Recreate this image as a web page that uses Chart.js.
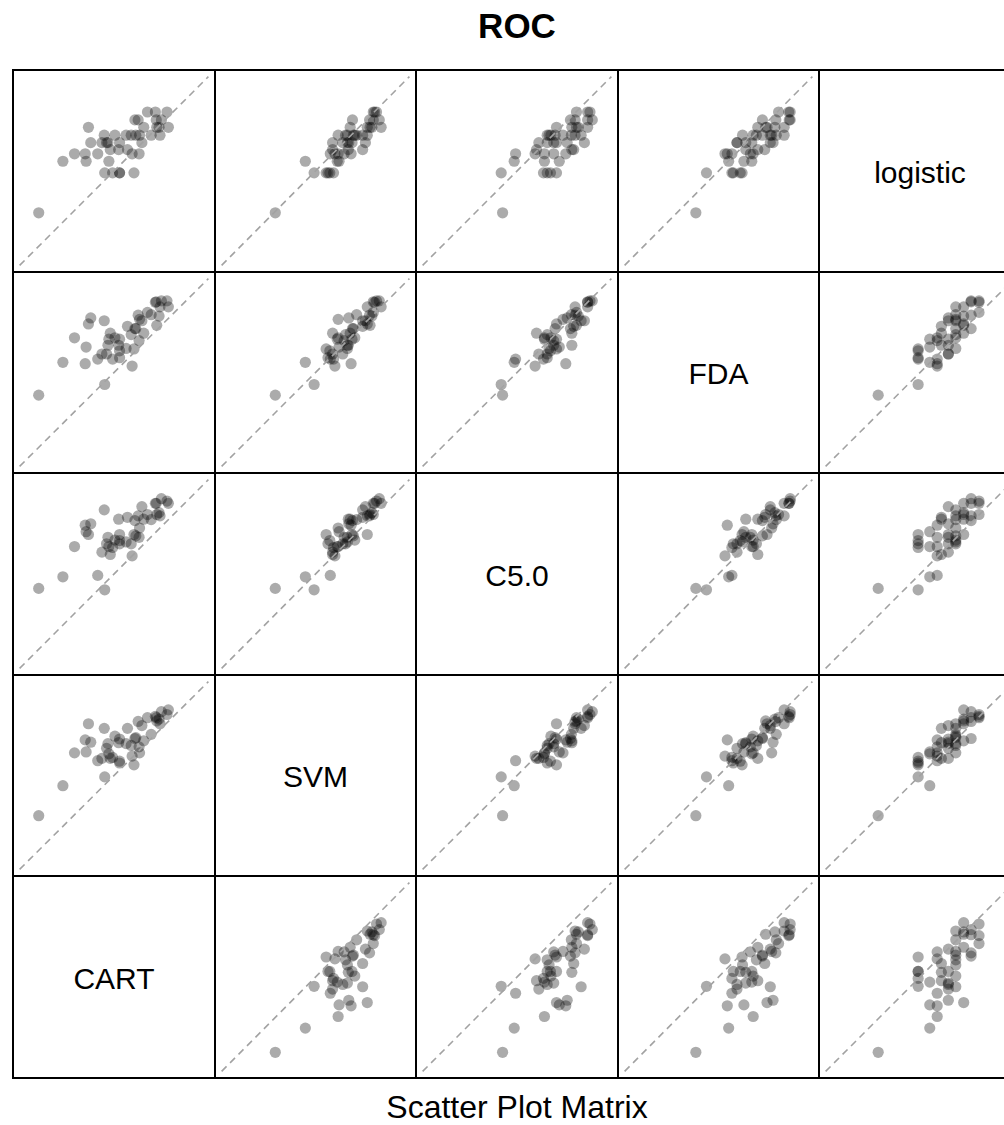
<!DOCTYPE html>
<html>
<head>
<meta charset="utf-8">
<title>ROC</title>
<script src="https://cdn.jsdelivr.net/npm/chart.js@4/dist/chart.umd.min.js"></script>
<style>
  html, body { margin: 0; padding: 0; background: #fff; overflow: hidden; }
  body { width: 1004px; height: 1125px; position: relative; font-family: "Liberation Sans", Arial, Helvetica, sans-serif; }
  .title { position: absolute; left: 0; width: 1034px; top: 6px; text-align: center; font-weight: bold; font-size: 35px; color: #000; }
  .xlab { position: absolute; left: 0; width: 1034px; top: 1089px; text-align: center; font-size: 32px; color: #000; }
  .panel { position: absolute; background: #fff; }
  .panel canvas { display: block; }
  .varname { position: absolute; display: flex; align-items: center; justify-content: center; font-size: 30px; color: #000; padding-top: 3px; box-sizing: border-box; }
  .rule { position: absolute; background: #000; }
</style>
</head>
<body>
<div class="title">ROC</div>
<div class="xlab">Scatter Plot Matrix</div>
<div id="matrix"></div>
<script>
// resampled ROC per model, one entry per resample
const models = ['CART', 'SVM', 'C5.0', 'FDA', 'logistic'];
const rocCART = [0.638, 0.780, 0.797, 0.812, 0.812, 0.843, 0.690, 0.740, 0.789, 0.715, 0.738, 0.765, 0.839, 0.854, 0.792,
  0.810, 0.829, 0.750, 0.774, 0.784, 0.787, 0.812, 0.860, 0.779, 0.802, 0.826, 0.837, 0.847, 0.855, 0.880,
  0.899, 0.745, 0.864, 0.892, 0.897, 0.917, 0.845, 0.852, 0.891, 0.902, 0.872, 0.889, 0.914];
const rocSVM = [0.713, 0.797, 0.839, 0.827, 0.831, 0.823, 0.778, 0.851, 0.847, 0.849, 0.877, 0.832, 0.842, 0.862, 0.837,
  0.871, 0.902, 0.872, 0.837, 0.859, 0.869, 0.879, 0.908, 0.902, 0.885, 0.869, 0.865, 0.882, 0.849, 0.889,
  0.912, 0.912, 0.875, 0.918, 0.922, 0.942, 0.880, 0.917, 0.925, 0.938, 0.925, 0.928, 0.932];
const rocC50 = [0.769, 0.766, 0.857, 0.865, 0.872, 0.885, 0.794, 0.891, 0.859, 0.859, 0.905, 0.797, 0.839, 0.879, 0.842,
  0.918, 0.922, 0.908, 0.847, 0.865, 0.879, 0.885, 0.945, 0.938, 0.873, 0.869, 0.865, 0.882, 0.899, 0.917,
  0.925, 0.885, 0.918, 0.928, 0.932, 0.952, 0.915, 0.925, 0.952, 0.962, 0.928, 0.952, 0.957];
const rocFDA = [0.751, 0.774, 0.829, 0.832, 0.847, 0.851, 0.822, 0.855, 0.872, 0.875, 0.819, 0.829, 0.814, 0.869, 0.885,
  0.859, 0.900, 0.918, 0.840, 0.840, 0.859, 0.872, 0.912, 0.912, 0.875, 0.852, 0.882, 0.895, 0.915, 0.925,
  0.942, 0.905, 0.885, 0.902, 0.922, 0.942, 0.895, 0.924, 0.953, 0.955, 0.930, 0.952, 0.955];
const rocLogistic = [0.710, 0.796, 0.796, 0.796, 0.796, 0.796, 0.821, 0.821, 0.821, 0.837, 0.837, 0.837, 0.837, 0.837, 0.846,
  0.846, 0.846, 0.861, 0.861, 0.861, 0.861, 0.861, 0.861, 0.877, 0.877, 0.877, 0.877, 0.877, 0.877, 0.877,
  0.877, 0.894, 0.894, 0.894, 0.894, 0.894, 0.910, 0.910, 0.910, 0.910, 0.927, 0.927, 0.927];

const series = [rocCART, rocSVM, rocC50, rocFDA, rocLogistic];

// common panel range: extend by 5%, then the usual 7% axis padding
const all = [].concat(...series);
let lo = Math.min(...all), hi = Math.max(...all);
let r = hi - lo;
lo -= 0.05 * r; hi += 0.05 * r;
r = hi - lo;
lo -= 0.07 * r; hi += 0.07 * r;

const n = models.length;
const step = 201.6;
const edgesX = [], edgesY = [];
for (let k = 0; k <= n; k++) {
  edgesX.push(Math.round(13 + k * step));
  edgesY.push(Math.round(70 + k * step));
}

const matrix = document.getElementById('matrix');

for (let row = 0; row < n; row++) {
  for (let col = 0; col < n; col++) {
    const yi = n - 1 - row;   // top row is the last model
    const xi = col;
    const left = edgesX[col] + 1, top = edgesY[row] + 1;
    const w = edgesX[col + 1] - edgesX[col] - 2;
    const h = edgesY[row + 1] - edgesY[row] - 2;

    if (xi === yi) {
      const lab = document.createElement('div');
      lab.className = 'varname';
      lab.style.left = left + 'px'; lab.style.top = top + 'px';
      lab.style.width = w + 'px'; lab.style.height = h + 'px';
      lab.textContent = models[xi];
      matrix.appendChild(lab);
      continue;
    }

    const box = document.createElement('div');
    box.className = 'panel';
    box.style.left = left + 'px'; box.style.top = top + 'px';
    box.style.width = w + 'px'; box.style.height = h + 'px';
    const cv = document.createElement('canvas');
    cv.width = w; cv.height = h;
    box.appendChild(cv);
    matrix.appendChild(box);

    const pts = series[xi].map((v, k) => ({ x: v, y: series[yi][k] }));

    new Chart(cv, {
      type: 'scatter',
      data: {
        datasets: [
          {
            // y = x reference line, drawn over the points
            type: 'line',
            data: [{ x: lo, y: lo }, { x: hi, y: hi }],
            borderColor: '#a2a2a2',
            borderWidth: 1.6,
            borderDash: [7, 5],
            pointRadius: 0,
            fill: false,
            clip: false
          },
          {
            data: pts,
            backgroundColor: 'rgba(0,0,0,0.33)',
            borderWidth: 0,
            pointRadius: 5.6,
            pointHoverRadius: 5.6
          }
        ]
      },
      options: {
        responsive: false,
        animation: false,
        devicePixelRatio: 1,
        layout: { padding: 0 },
        events: [],
        plugins: { legend: { display: false }, tooltip: { enabled: false }, title: { display: false } },
        scales: {
          x: { type: 'linear', min: lo, max: hi, display: false },
          y: { type: 'linear', min: lo, max: hi, display: false }
        }
      }
    });
  }
}

// panel borders
const spanX0 = edgesX[0] - 1, spanX1 = edgesX[n] + 1;
const spanY0 = edgesY[0] - 1, spanY1 = edgesY[n] + 1;
for (let k = 0; k <= n; k++) {
  const v = document.createElement('div');
  v.className = 'rule';
  v.style.left = (edgesX[k] - 1) + 'px'; v.style.top = spanY0 + 'px';
  v.style.width = '2px'; v.style.height = (spanY1 - spanY0) + 'px';
  matrix.appendChild(v);
  const hz = document.createElement('div');
  hz.className = 'rule';
  hz.style.left = spanX0 + 'px'; hz.style.top = (edgesY[k] - 1) + 'px';
  hz.style.width = (spanX1 - spanX0) + 'px'; hz.style.height = '2px';
  matrix.appendChild(hz);
}
</script>
</body>
</html>
